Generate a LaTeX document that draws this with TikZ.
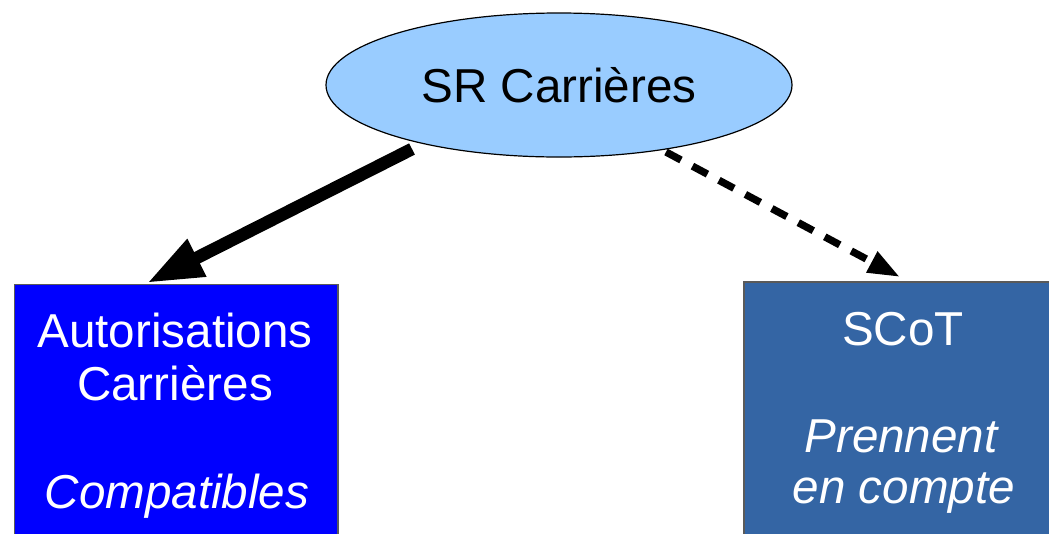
\documentclass[tikz,border=0pt]{standalone}
\usepackage{fontspec}
\setmainfont{Liberation Sans}
\usetikzlibrary{arrows.meta,shapes.geometric,calc}
\definecolor{ellfill}{HTML}{99CCFF}
\definecolor{leftfill}{HTML}{0000FF}
\definecolor{rightfill}{HTML}{3465A4}
\definecolor{boxborder}{HTML}{5A5A5A}
\begin{document}
\begin{tikzpicture}[x=0.75pt,y=-0.75pt,
  bigtxt/.style={font=\fontsize{35.7pt}{40.5pt}\selectfont, inner sep=0pt},
  boxtxt/.style={bigtxt, text=white, anchor=base},
  ellnode/.style={ellipse, draw=black, line width=0.9pt, fill=ellfill, minimum width=466*0.75pt, minimum height=144*0.75pt, inner sep=0pt, bigtxt},
  leftbox/.style={rectangle, draw=boxborder, line width=1.2pt, fill=leftfill, anchor=north west, minimum width=323.5*0.75pt, minimum height=320*0.75pt, inner sep=0pt},
  rightbox/.style={rectangle, draw=boxborder, line width=1.2pt, fill=rightfill, anchor=north west, minimum width=330*0.75pt, minimum height=320*0.75pt, inner sep=0pt},
  solidarrow/.style={line width=9.5pt, -{Triangle[length=42pt,width=29pt]}},
  dasharrow/.style={line width=5.5pt, dash pattern=on 12.75pt off 9.75pt, -{Triangle[length=24pt,width=16.5pt]}}
]
\useasboundingbox (0,0) rectangle (1049,533);
\clip (0,0) rectangle (1049,533);
\node[ellnode] (sr) at (559,85) {SR Carrières};
\node[leftbox] (auto) at (13.5,283.5) {};
\node[rightbox] (scot) at (743,281) {};
\node[boxtxt] (a1) at (175,347) {Autorisations};
\node[boxtxt] (a2) at (175,400) {Carrières};
\node[boxtxt] (a3) at (177,508) {\itshape Compatibles};
\node[boxtxt] (s1) at (903,345) {SCoT};
\node[boxtxt] (s2) at (901,452) {\itshape Prennent};
\node[boxtxt] (s3) at (904,503) {\itshape en compte};
\coordinate (srleft) at ($(sr.center)+(-147,64)$);
\coordinate (srright) at ($(sr.center)+(107,67)$);
\coordinate (autotip) at ($(auto.north west)+(133.5,-0.5)$);
\coordinate (scottip) at ($(scot.north west)+(157,-4)$);
\draw[solidarrow] (srleft) -- (autotip);
\draw[dasharrow] (srright) -- (scottip);
\end{tikzpicture}
\end{document}
